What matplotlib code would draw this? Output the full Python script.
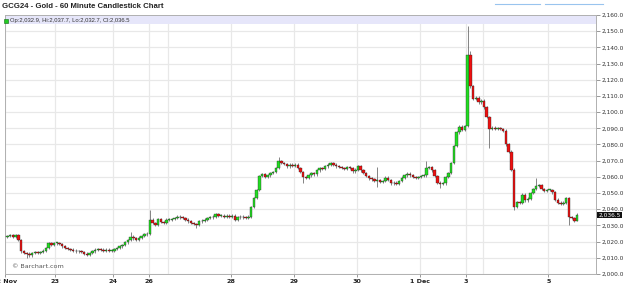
import numpy as np
import matplotlib.pyplot as plt
from matplotlib.patches import Rectangle
from matplotlib.lines import Line2D

# hourly closes, grouped by trading day
day_labels = ['22 Nov', '23', '24', '26', '27', '28', '29', '30', '1 Dec', '3', '4', '5']
show_label = [True, True, True, True, False, True, True, True, True, True, False, True]

nov22 = [2023.5, 2024.0, 2023.0, 2023.8, 2021.0, 2014.0, 2013.0, 2012.5, 2011.5, 2013.0,
         2013.5, 2013.0, 2013.5, 2014.5, 2016.0, 2019.0, 2018.0, 2019.0]
nov23 = [2019.0, 2018.5, 2017.0, 2016.0, 2015.5, 2015.0, 2014.5, 2014.0, 2014.0, 2013.5,
         2012.5, 2012.0, 2013.0, 2014.0, 2015.0, 2015.5, 2015.0, 2014.5, 2015.0, 2014.5, 2014.5]
nov24 = [2015.5, 2016.0, 2017.0, 2018.0, 2019.5, 2021.0, 2023.0, 2022.0, 2021.0, 2022.5,
         2023.5, 2024.5, 2025.0]
nov26 = [2033.5, 2031.5, 2030.5, 2034.0, 2032.0, 2031.5, 2033.5]
nov27 = [2033.5, 2034.0, 2034.5, 2035.5, 2035.0, 2034.5, 2033.5, 2032.5, 2031.5, 2031.0,
         2030.5, 2032.5, 2033.0, 2033.5, 2034.5, 2035.0, 2035.5, 2037.0, 2036.0, 2036.0,
         2035.5, 2036.0, 2035.5]
nov28 = [2036.0, 2033.5, 2035.0, 2035.5, 2035.0, 2034.5, 2035.5, 2041.5, 2047.0, 2052.0,
         2060.5, 2061.5, 2060.0, 2061.0, 2062.5, 2063.0, 2065.5, 2069.5, 2068.5, 2068.0,
         2066.5, 2067.5, 2067.0]
nov29 = [2067.5, 2065.5, 2063.0, 2060.0, 2059.5, 2061.0, 2062.5, 2061.5, 2064.0, 2065.5,
         2065.0, 2066.5, 2067.5, 2068.5, 2067.5, 2066.5, 2066.0, 2065.5, 2065.0, 2066.0,
         2065.5, 2063.5, 2064.5]
nov30 = [2066.5, 2064.0, 2062.5, 2060.5, 2059.0, 2058.5, 2057.5, 2058.0, 2057.0, 2057.5,
         2059.5, 2058.0, 2056.0, 2056.5, 2055.5, 2057.5, 2059.5, 2061.0, 2062.0, 2061.0,
         2060.0, 2059.5, 2060.0]
dec01 = [2060.5, 2061.0, 2065.5, 2066.0, 2064.0, 2060.5, 2056.5, 2055.5, 2056.0, 2060.0,
         2062.5, 2068.5, 2079.0, 2087.5, 2091.0, 2089.0, 2091.5]
dec03 = [2135.5, 2116.0, 2108.0, 2109.0, 2106.0, 2107.0]
dec04 = [2103.0, 2097.0, 2089.5, 2090.5, 2089.5, 2090.0, 2089.5, 2088.5, 2080.0, 2075.5,
         2064.5, 2041.5, 2044.5, 2044.0, 2049.0, 2045.5, 2046.5, 2050.0, 2052.5, 2054.5,
         2055.0, 2052.5, 2051.5, 2052.0]
dec05 = [2052.0, 2050.5, 2046.0, 2044.0, 2043.5, 2044.0, 2047.0, 2035.0, 2034.5, 2032.9, 2036.5]

days = [nov22, nov23, nov24, nov26, nov27, nov28, nov29, nov30, dec01, dec03, dec04, dec05]
first_open = 2023.0

# notable wicks (bar index -> price)
spike_high = {45: 2026.0, 52: 2039.5, 99: 2072.0, 135: 2066.0, 153: 2069.5,
              168: 2153.0, 169: 2138.0, 193: 2059.5, 208: 2037.7}
spike_low = {7: 2010.0, 69: 2028.5, 108: 2056.0, 135: 2054.0, 158: 2053.0,
             176: 2078.0, 185: 2039.5, 205: 2030.0, 208: 2032.7}

closes = np.array([c for d in days for c in d])
opens = np.concatenate([[first_open], closes[:-1]])
n = len(closes)
x = np.arange(n)
highs = np.maximum(opens, closes) + 0.8
lows = np.minimum(opens, closes) - 0.8
for i, v in spike_high.items():
    highs[i] = v
for i, v in spike_low.items():
    lows[i] = v

day_starts = np.cumsum([0] + [len(d) for d in days[:-1]]) - 0.5
x_left = -0.9
day_starts[0] = x_left

fig = plt.figure(figsize=(6.24, 2.86), dpi=100)
ax = fig.add_axes([5 / 624, 12 / 286, 591 / 624, 259 / 286])

ax.set_ylim(2000, 2160)
ax.set_xlim(x_left, 214.9)

# grid
for y in range(2000, 2161, 10):
    ax.axhline(y, color='#e8e8e8', lw=0.9, zorder=0)
for xs in day_starts:
    ax.axvline(xs, color='#e8e8e8', lw=0.9, zorder=0)

# header band inside plot
ax.add_patch(Rectangle((0, 0.965), 1, 0.035, transform=ax.transAxes,
                       facecolor='#e6e6fa', edgecolor='none', zorder=1))

up = closes >= opens
ax.vlines(x, lows, highs, color='#707070', lw=0.6, zorder=2)
body_h = np.maximum(np.abs(closes - opens), 0.5)
body_b = np.minimum(opens, closes)
ax.bar(x[up], body_h[up], bottom=body_b[up], width=0.92, color='#22dd22',
       edgecolor='#222222', linewidth=0.25, zorder=3)
ax.bar(x[~up], body_h[~up], bottom=body_b[~up], width=0.92, color='#ee1111',
       edgecolor='#222222', linewidth=0.25, zorder=3)

# axes styling
for s in ax.spines.values():
    s.set_color('#b0b0b0')
    s.set_linewidth(0.7)
ax.yaxis.tick_right()
ax.set_yticks(range(2000, 2161, 10))
ax.set_yticklabels([f'{v:,.1f}' for v in range(2000, 2161, 10)])
ax.tick_params(axis='y', length=3, width=0.6, color='#888888', labelsize=4.2,
               labelcolor='#333333', pad=1)
ax.set_xticks([p for p, s in zip(day_starts, show_label) if s])
ax.set_xticklabels([l for l, s in zip(day_labels, show_label) if s])
ax.tick_params(axis='x', length=2, width=0.6, color='#888888', labelsize=4.6,
               labelcolor='#222222', pad=1.5)
for t in ax.get_xticklabels():
    t.set_fontweight('bold')

# last price tag
ax.text(1.004, closes[-1], f'{closes[-1]:,.1f}', transform=ax.get_yaxis_transform(),
        fontsize=4.2, color='white', va='center', ha='left',
        bbox=dict(boxstyle='square,pad=0.15', facecolor='#111111', edgecolor='none'),
        zorder=5, clip_on=False)

# texts
fig.text(2 / 624, 1 - 7 / 286, 'GCG24 - Gold - 60 Minute Candlestick Chart',
         fontsize=5.6, fontweight='bold', color='#222222', va='center',
         family=['Liberation Sans Narrow', 'Liberation Sans', 'DejaVu Sans'])
fig.patches.append(Rectangle((4 / 624, 1 - 23 / 286), 4 / 624, 4 / 286,
                             transform=fig.transFigure, facecolor='#22cc22',
                             edgecolor='#116611', linewidth=0.4))
fig.text(10 / 624, 1 - 20.5 / 286, 'Op:2,032.9, Hi:2,037.7, Lo:2,032.7, Cl:2,036.5',
         fontsize=4.2, color='#333333', va='center',
         family=['Liberation Sans Narrow', 'Liberation Sans', 'DejaVu Sans'])
fig.text(12 / 624, 1 - 267 / 286, '© Barchart.com', fontsize=4.6, color='#555555',
         va='center')

fig.lines.append(Line2D([495 / 624, 540 / 624], [1 - 4 / 286] * 2,
                        transform=fig.transFigure, color='#99c4ee', lw=0.8))
fig.lines.append(Line2D([545 / 624, 603 / 624], [1 - 4 / 286] * 2,
                        transform=fig.transFigure, color='#99c4ee', lw=0.8))

fig.savefig('out.png', dpi=100, facecolor='white')
